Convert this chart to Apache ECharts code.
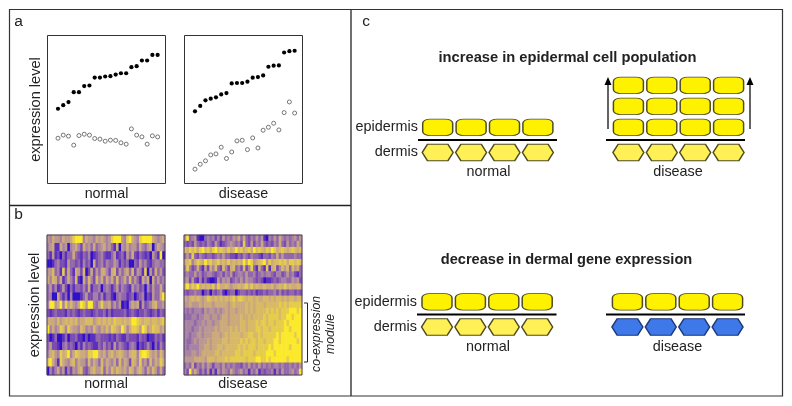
<!DOCTYPE html>
<html><head><meta charset="utf-8">
<style>html,body{margin:0;padding:0;background:#fff}#c{width:792px;height:406px}</style>
<script src="https://cdn.jsdelivr.net/npm/echarts@6/dist/echarts.min.js"></script>
</head><body><div id="c"></div>
<script>
const sampleIndex = [1,2,3,4,5,6,7,8,9,10,11,12,13,14,15,16,17,18,19,20];
const normalFilled = [50.5,52.9,55,61.7,61.7,65.8,66.2,71.6,71.6,72.3,72.5,73.6,74.5,74.5,78.6,79.3,83.1,83.1,86.9,86.9];
const normalOpen = [30.6,32.7,32,25.9,32.4,33.3,32.7,30.4,30,28.6,29.3,29.1,27.5,26.6,36.9,32.7,31.5,26.6,32.2,31.5];
const diseaseFilled = [48.8,52.4,56.2,57.3,58.2,60.2,61.1,67.6,67.9,67.9,68.8,71.5,71.9,73,78.9,79.6,79.8,88.5,89.4,89.7];
const diseaseOpen = [9.7,13,15.3,19.3,20,24.5,16.9,21.3,28.8,29.2,22.9,30.8,24,36,38,40.7,36.2,47.9,55.1,47.6];

const heatNormal = [
"5465546556 8999465546 5654589995 4896548999 965456",
"4561164504 5642645363 4564531605 4645536435 604654",
"3151203133 6321324012 3421135123 1536213212 053190",
"0013422153 3231423062 3424335413 2300325342 134433",
"5573418263 1652702625 3664267253 5637254180 526352",
"6476361364 2710637427 4636463734 6373531646 063534",
"3524125203 1332426133 4034313524 3215342304 253363",
"3400631304 0001352244 2413310343 3123023402 153369",
"4995694857 5469859943 5855635350 1046561523 467445",
"2123222132 3212322123 2231312222 3123212232 123132",
"6665756767 6756677756 7676768776 7679987677 677678",
"9464587486 5547645475 4657587659 7468875985 687756",
"2013001302 2311020113 3222121321 1322213220 113231",
"3522103423 2031423211 3242315243 2134302124 203142",
"4675486794 6876658899 6564675676 5467748998 656475",
"8964186546 7465537465 3746546374 6527648453 746586",
"0424635142 5467324675 5736475765 6476467536 475363"
];
const heatDisease = [
"5934510034 3424253435 4636324353 5104353643 434535",
"3232532324 3253123454 3428325243 6323243632 534364",
"7687868978 6897876867 9786786978 7687986787 678767",
"3538324323 3234353322 1324324332 1332436353 333433",
"6784687697 8678676867 6769698567 8958677878 688787",
"4842363152 6473274267 3427248316 3181672475 737563",
"3433534234 4323424352 3443533423 4344324423 534213",
"4525214131 0015354523 4353544323 2011232344 335452",
"7968796767 6858667656 6767868676 6766756768 676676",
"3233433023 0323410233 0233232312 2323342423 233232",
"6567676568 7676767678 6887677676 6776767767 677677",
"5565556566 6566666567 6666767677 7677777878 788888",
"4343444354 5545456566 5666767677 7787878788 899989",
"3334434455 4554566566 6676676777 7878888788 998999",
"4444344545 5455666566 6677677787 8878878889 899999",
"4443445455 5565666676 7677677788 7887888889 989999",
"4434455455 5666567677 7767788778 7888889899 999899",
"4334545556 5666677677 7787878878 8788899899 999989",
"4344445566 5667767777 7878788878 8889899999 989999",
"4445545666 6677677777 8878888788 8899989999 999999",
"5555666657 7767778788 8888788899 8898999999 899999",
"3436243535 4244353434 3324353435 3434344343 343435",
"4294642425 1415354364 3453414351 3233414253 345349"
];
const heatColors = ['#3010c8','#5a30bc','#7a4cb2','#9268aa','#a882a4','#ba9890','#ccaa7a','#d8ba66','#e6cc4c','#fbe92a'];

const cellColumns = [0,1,2,3];
const dermisLayer = [0];
const epidermisSingle = [1.2];
const epidermisTriple = [1.2,2.2,3.2];

const FONT = '"Liberation Sans", Arial, sans-serif';
const INK = '#222';
const HEX = 'path://M0 50 L17 0 L83 0 L100 50 L83 100 L17 100 Z';

function heatData(rows){
  const out = [];
  rows.forEach((r,y)=>{ r.replace(/ /g,'').split('').forEach((v,x)=>out.push([x,y,+v])); });
  return out;
}
function scatterGrid(left,name){
  return {
    grid:{left:left,top:35.5,width:118,height:148,show:true,borderColor:'#333',borderWidth:1,backgroundColor:'#fff'},
    x:{type:'value',min:-1,max:21.5,show:true,axisLine:{show:false},axisTick:{show:false},axisLabel:{show:false},splitLine:{show:false},
       name:name,nameLocation:'middle',nameGap:11,nameTextStyle:{fontFamily:FONT,fontSize:14.3,color:INK,verticalAlign:'middle'}},
    y:{type:'value',min:0,max:100,axisLine:{show:false},axisTick:{show:false},axisLabel:{show:false},splitLine:{show:false}}
  };
}
function heatGrid(left,name,rows){
  const n = rows.length;
  return {
    grid:{left:left,top:235,width:118,height:140,show:true,borderColor:'#4a3a5a',borderWidth:1,z:5,backgroundColor:'transparent'},
    x:{type:'category',data:Array.from({length:46},(_,i)=>i),axisLine:{show:false},axisTick:{show:false},axisLabel:{show:false},splitLine:{show:false},
       name:name,nameLocation:'middle',nameGap:9,nameTextStyle:{fontFamily:FONT,fontSize:14.3,color:INK,verticalAlign:'middle'}},
    y:{type:'category',inverse:true,data:Array.from({length:n},(_,i)=>i),axisLine:{show:false},axisTick:{show:false},axisLabel:{show:false},splitLine:{show:false}}
  };
}
const gA1 = scatterGrid(47.5,'normal'), gA2 = scatterGrid(184.5,'disease');
gA1.y.name='expression level'; gA1.y.nameLocation='middle'; gA1.y.nameGap=12;
gA1.y.nameTextStyle={fontFamily:FONT,fontSize:14.6,color:INK,verticalAlign:'middle'};
const gB1 = heatGrid(47,'normal',heatNormal), gB2 = heatGrid(184,'disease',heatDisease);
gB1.y.name='expression level'; gB1.y.nameLocation='middle'; gB1.y.nameGap=12;
gB1.y.nameTextStyle={fontFamily:FONT,fontSize:14.6,color:INK,verticalAlign:'middle'};

function diagram(left,bottom){
  return {
    grid:{left:left,width:133.6,top:bottom-88.2,height:88.2},
    x:{type:'value',min:0,max:4,show:false},
    y:{type:'value',min:-0.5,max:3.7,show:false}
  };
}
const diags = [diagram(421,163),diagram(611.7,163),diagram(420.3,337.5),diagram(610.7,337.5)];
const all = [gA1,gA2,gB1,gB2,...diags];

function dots(idx,vals,open){
  return {type:'scatter',xAxisIndex:idx,yAxisIndex:idx,symbol:'circle',symbolSize:open?4:4.2,
    data:sampleIndex.map((x,i)=>[x,vals[i]]),
    itemStyle:open?{color:'#fff',borderColor:'#666',borderWidth:0.9,opacity:1}:{color:'#000',opacity:1},z:3};
}
function heat(idx,rows){
  return {type:'heatmap',xAxisIndex:idx,yAxisIndex:idx,data:heatData(rows),itemStyle:{borderWidth:0},emphasis:{disabled:true}};
}
function cells(idx,layers,symbol,fill,stroke){
  const data=[]; layers.forEach(l=>cellColumns.forEach(c=>data.push([c+0.5,l])));
  return {type:'scatter',xAxisIndex:idx,yAxisIndex:idx,symbol:symbol,symbolSize:symbol==='roundRect'?[30,16.5]:[31,16.5],data,
    itemStyle:{color:fill,borderColor:stroke,borderWidth:1.1,opacity:1}};
}
const YEL='#fff200', YEL2='#fff055', STK='#4f4a20';

function text(x,y,t,extra){
  return {type:'text',x,y,silent:true,style:Object.assign({text:t,fontFamily:FONT,fontSize:14.4,fill:INK,align:'center',verticalAlign:'middle'},extra||{})};
}
function line(x1,y1,x2,y2,w,c){
  return {type:'line',silent:true,shape:{x1,y1,x2,y2},style:{stroke:c||'#000',lineWidth:w}};
}
function arrow(x,yb,yt){
  return [line(x,yb,x,yt+4,1.4,'#222'),
    {type:'polygon',silent:true,shape:{points:[[x,yt-3],[x-3.5,yt+5],[x+3.5,yt+5]]},style:{fill:'#000'}}];
}
const graphics = [
  {type:'rect',silent:true,shape:{x:9.5,y:9.5,width:773,height:386.5},style:{fill:'none',stroke:'#333',lineWidth:1.2}},
  line(9.5,205.5,351,205.5,1.4,'#222'),
  line(351,9.5,351,396,1.4,'#333'),
  text(18.5,22,'a',{fontSize:15.5}), text(18.5,215,'b',{fontSize:15.5}), text(366,22,'c',{fontSize:15.5}),
  text(567.5,58,'increase in epidermal cell population',{fontWeight:'bold',fontSize:14.7}),
  text(566.5,260,'decrease in dermal gene expression',{fontWeight:'bold',fontSize:14.6}),
  text(418,127.5,'epidermis',{align:'right'}), text(418,152.5,'dermis',{align:'right'}),
  text(417,302,'epidermis',{align:'right'}), text(417,327,'dermis',{align:'right'}),
  text(488.5,172.5,'normal'), text(678,172.5,'disease'),
  text(488,347,'normal'), text(677.5,347,'disease'),
  line(418,140,557,140,1.9), line(606,140,745,140,1.9),
  line(417,314.5,556.5,314.5,1.9), line(606,314.5,745,314.5,1.9),
  ...arrow(608,129,80), ...arrow(750,129,80),
  {type:'polyline',silent:true,shape:{points:[[304,303],[307.5,303],[307.5,362],[304,362]]},style:{stroke:'#222',lineWidth:1,fill:'none'}},
  {type:'text',silent:true,x:317,y:334,rotation:Math.PI/2,style:{text:'co-expression',fontFamily:FONT,fontStyle:'italic',fontSize:12.2,fill:INK,align:'center',verticalAlign:'middle'}},
  {type:'text',silent:true,x:331,y:334,rotation:Math.PI/2,style:{text:'module',fontFamily:FONT,fontStyle:'italic',fontSize:12.2,fill:INK,align:'center',verticalAlign:'middle'}}
];

const option = {
  animation:false,
  backgroundColor:'#fff',
  grid:all.map(a=>a.grid),
  xAxis:all.map((a,i)=>Object.assign({gridIndex:i},a.x)),
  yAxis:all.map((a,i)=>Object.assign({gridIndex:i},a.y)),
  visualMap:{type:'continuous',show:false,min:0,max:9,seriesIndex:[4,5],inRange:{color:heatColors}},
  series:[
    dots(0,normalFilled,false),dots(0,normalOpen,true),
    dots(1,diseaseFilled,false),dots(1,diseaseOpen,true),
    heat(2,heatNormal),heat(3,heatDisease),
    cells(4,epidermisSingle,'roundRect',YEL,STK),cells(4,dermisLayer,HEX,YEL2,STK),
    cells(5,epidermisTriple,'roundRect',YEL,STK),cells(5,dermisLayer,HEX,YEL2,STK),
    cells(6,epidermisSingle,'roundRect',YEL,STK),cells(6,dermisLayer,HEX,YEL2,STK),
    cells(7,epidermisSingle,'roundRect',YEL,STK),cells(7,dermisLayer,HEX,'#3f78e8','#1c3a78')
  ],
  graphic:{elements:graphics}
};
echarts.init(document.getElementById('c'),null,{renderer:'canvas'}).setOption(option);
</script></body></html>
